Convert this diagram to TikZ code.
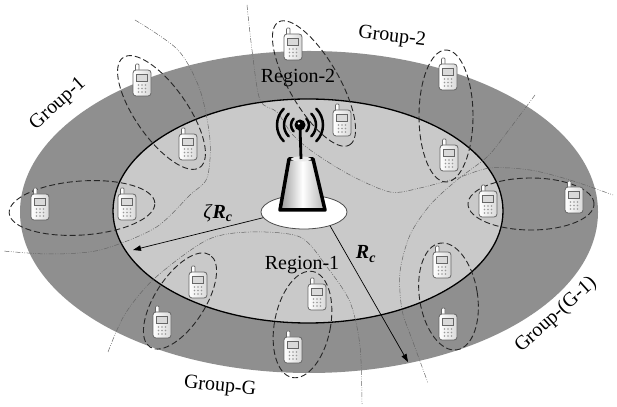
\documentclass[tikz,border=0pt]{standalone}
\usepackage{fontspec}
\setmainfont{Liberation Serif}
\usetikzlibrary{arrows.meta,shapes.geometric}
\definecolor{ring}{gray}{0.56}
\definecolor{core}{gray}{0.79}

\tikzset{
  phone/.pic={
    \draw[line width=0.7pt, draw=black!60, fill=white, rounded corners=1pt] (-6.5,12) rectangle (-3,19);
    \draw[line width=0.8pt, draw=black!60, left color=white, right color=black!15, rounded corners=3pt] (-9,-13) rectangle (9,13);
    \draw[line width=0.6pt, draw=black!60, fill=black!15] (-5.5,2) rectangle (5.5,9);
    \foreach \i in {-3.5,0,3.5}
      \foreach \j in {-2,-5.5,-9}
        \fill[black!40] (\i,\j) circle (0.9);
  }
}

\begin{document}
\begin{tikzpicture}[x=1pt, y=1pt,
  grp/.style={draw=black!85, line width=0.9pt, dash pattern=on 6pt off 3pt},
  sect/.style={draw=black!60, line width=0.5pt, dash pattern=on 5pt off 1.5pt on 0.8pt off 1.5pt on 0.8pt off 1.5pt},
  sig/.style={line width=2.5pt, line cap=round},
  arr/.style={-{Triangle[length=8pt,width=5.5pt]}, line width=0.7pt},
  lab/.style={font=\fontsize{20}{24}\selectfont, inner sep=1pt}]
  \useasboundingbox (0,0) rectangle (617,406);

  \fill[ring] (309,194) ellipse [x radius=289, y radius=161];
  \filldraw[fill=core, draw=black, line width=1.3pt] (308,195) ellipse [x radius=195, y radius=112];

  % borders of the groups
  \draw[sect] plot[smooth] coordinates {(135,386) (178,356) (200,316) (210,266) (207,228) (190,211) (155,178) (100,156) (50,152) (3,155)};
  \draw[sect] plot[smooth] coordinates {(247,401) (252,356) (260,306) (277,294) (292,272) (313,254) (350,231) (390,214) (420,218) (457,228) (490,238) (530,236) (570,226) (613,211)};
  \draw[sect] plot[smooth] coordinates {(535,311) (505,271) (487,249) (457,226) (430,201) (410,171) (400,134) (402,96) (413,64) (428,23)};
  \draw[sect] plot[smooth] coordinates {(108,54) (125,92) (155,128) (207,166) (250,174) (300,169) (327,139) (350,104) (360,60) (362,2)};

  % base station
  \node[ellipse, draw=black!70, line width=0.8pt, fill=white, minimum width=86pt, minimum height=34pt, inner sep=0pt] (base) at (304,194) {};
  \draw[line width=3.5pt, line join=round, left color=black!40, right color=black!30, middle color=white] (280,196) -- (289,247) -- (313,247) -- (325,196) -- cycle;
  \fill[black!8] (301,247) ellipse [x radius=10, y radius=2.5];
  \draw[line width=2.8pt] (301,247) -- (300,280);
  \fill (300,281) circle (5.5);
  \fill[white] (298.8,282.5) circle (1.3);
  \foreach \r in {9,16,23} {
    \draw[sig] (300,281) ++(135:\r) arc[start angle=135, end angle=225, radius=\r];
    \draw[sig] (300,281) ++(-45:\r) arc[start angle=-45, end angle=45, radius=\r];
  }

  % user groups
  \draw[grp, rotate around={-55:(161.5,293.5)}] (161.5,293.5) ellipse [x radius=67, y radius=26];
  \draw[grp, rotate around={4:(82,198)}] (82,198) ellipse [x radius=73, y radius=27];
  \draw[grp, rotate around={-60:(314,322.5)}] (314,322.5) ellipse [x radius=71, y radius=25];
  \draw[grp] (446,290) ellipse [x radius=27, y radius=66];
  \draw[grp] (531,202) ellipse [x radius=63, y radius=26];
  \draw[grp, rotate around={9:(448.5,109.5)}] (448.5,109.5) ellipse [x radius=29, y radius=54];
  \draw[grp, rotate around={-11:(302.5,81.5)}] (302.5,81.5) ellipse [x radius=28, y radius=54];
  \draw[grp, rotate around={57:(180,105)}] (180,105) ellipse [x radius=55, y radius=25];

  \pic (ph1) at (142,323) {phone};
  \pic (ph2) at (188,259) {phone};
  \pic (ph3) at (40,199) {phone};
  \pic (ph4) at (127,199) {phone};
  \pic (ph5) at (293,359) {phone};
  \pic (ph6) at (342,283) {phone};
  \pic (ph7) at (448,329) {phone};
  \pic (ph8) at (449,248) {phone};
  \pic (ph9) at (488,202) {phone};
  \pic (ph10) at (574,206) {phone};
  \pic (ph11) at (442,141) {phone};
  \pic (ph12) at (448,79) {phone};
  \pic (ph13) at (317,109) {phone};
  \pic (ph14) at (293,56) {phone};
  \pic (ph15) at (198,121) {phone};
  \pic (ph16) at (162,81) {phone};

  % radii
  \coordinate (inner edge) at (133,156);
  \coordinate (outer edge) at (408,44);
  \draw[arr] (base.188) -- (inner edge);
  \draw[arr] (base.-28) -- (outer edge);

  \node[lab] (zeta) at (218,193) {\textit{ζ}\textbf{\textit{R}}\textsubscript{\textbf{\textit{c}}}};
  \node[lab] (rc) at (366,152) {\textbf{\textit{R}}\textsubscript{\textbf{\textit{c}}}};
  \node[lab, anchor=base] (reg2) at (298,323) {Region-2};
  \node[lab, anchor=base] (reg1) at (302,136) {Region-1};
  \node[lab, rotate=42] (grp1) at (58,302) {Group-1};
  \node[lab, rotate=-7] (grp2) at (392,369) {Group-2};
  \node[lab, rotate=42] (grpm) at (556,91) {Group-(G-1)};
  \node[lab, rotate=-6] (grpg) at (220,19) {Group-G};
\end{tikzpicture}
\end{document}
